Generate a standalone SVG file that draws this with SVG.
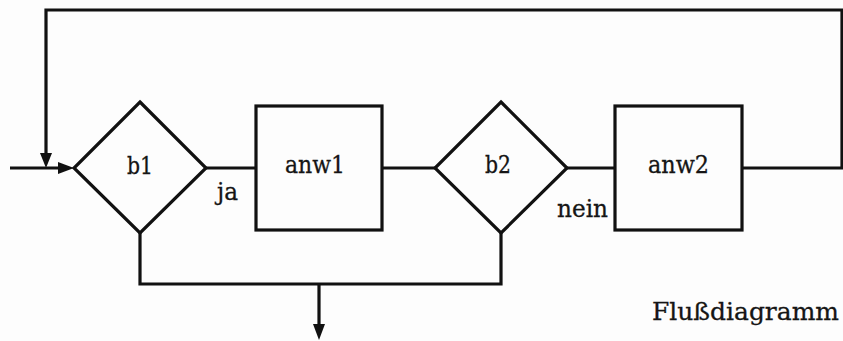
<svg xmlns="http://www.w3.org/2000/svg" width="843" height="341" viewBox="0 0 843 341">
  <style>
    .shape { fill: none; stroke: #111; stroke-width: 3.2; stroke-linejoin: miter; }
    .wire { fill: none; stroke: #111; stroke-width: 3.2; }
    .head { fill: #111; stroke: none; }
    .lbl { font-family: "DejaVu Serif", "Liberation Serif", serif; font-size: 24px; fill: #151515; stroke: #151515; stroke-width: 0.3; }
  </style>
  <rect width="843" height="341" fill="#fdfdfd"/>

  <!-- connectors -->
  <g id="connectors">
    <!-- feedback loop from the right end back to the entry -->
    <polyline class="wire" points="741,168 842,168 842,10 46,10 46,156"/>
    <polygon class="head" points="40,153 52,153 46,168"/>
    <!-- entry -->
    <line class="wire" x1="10" y1="168" x2="60" y2="168"/>
    <polygon class="head" points="58,162 58,174 74,168"/>
    <!-- b1 -> anw1 (ja) -->
    <line class="wire" x1="206" y1="168" x2="256" y2="168"/>
    <!-- anw1 -> b2 -->
    <line class="wire" x1="382" y1="168" x2="435" y2="168"/>
    <!-- b2 -> anw2 (nein) -->
    <line class="wire" x1="567" y1="168" x2="615" y2="168"/>
    <!-- exits joined below -->
    <polyline class="wire" points="140,233 140,284 501,284 501,233"/>
    <line class="wire" x1="319" y1="284" x2="319" y2="326"/>
    <polygon class="head" points="313,324 325,324 319,340"/>
  </g>

  <g id="b1">
    <polygon class="shape" points="140,102 206,168 140,233 74,168"/>
    <text class="lbl" x="127" y="174" textLength="26" lengthAdjust="spacingAndGlyphs">b1</text>
  </g>

  <g id="anw1">
    <rect class="shape" x="256" y="106" width="126" height="124"/>
    <text class="lbl" x="285" y="173" textLength="60" lengthAdjust="spacingAndGlyphs">anw1</text>
  </g>

  <g id="b2">
    <polygon class="shape" points="501,102 567,168 501,233 435,168"/>
    <text class="lbl" x="485" y="173" textLength="26" lengthAdjust="spacingAndGlyphs">b2</text>
  </g>

  <g id="anw2">
    <rect class="shape" x="615" y="106" width="127" height="124"/>
    <text class="lbl" x="648" y="173" textLength="61" lengthAdjust="spacingAndGlyphs">anw2</text>
  </g>

  <g id="labels">
    <text class="lbl" x="217" y="200" textLength="21" lengthAdjust="spacingAndGlyphs">ja</text>
    <text class="lbl" x="557" y="217" textLength="51" lengthAdjust="spacingAndGlyphs">nein</text>
    <text class="lbl" x="652" y="320" textLength="187" lengthAdjust="spacingAndGlyphs">Flußdiagramm</text>
  </g>
</svg>
